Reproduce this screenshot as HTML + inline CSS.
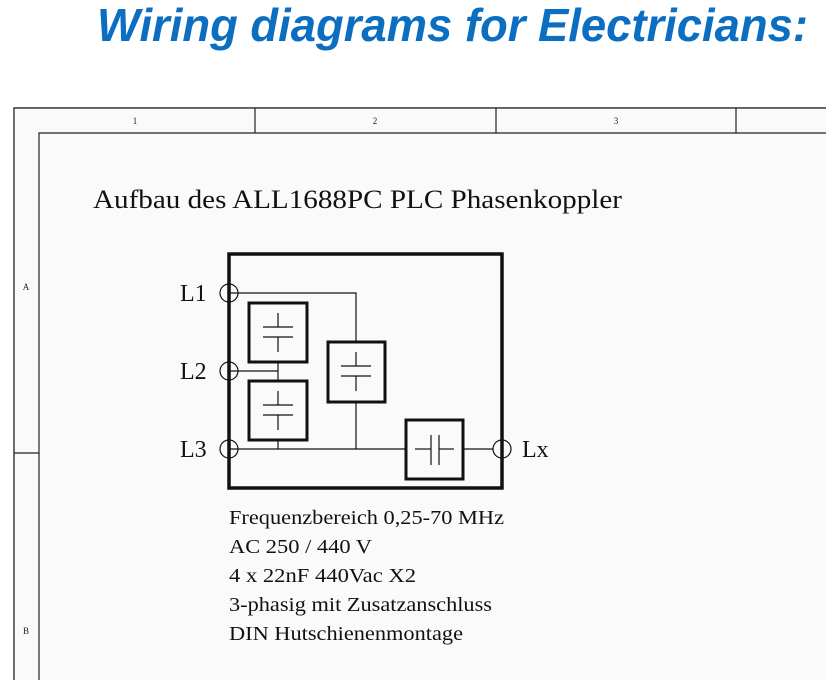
<!DOCTYPE html>
<html><head><meta charset="utf-8"><style>html,body{margin:0;padding:0;background:#fff;overflow:hidden;width:826px;height:680px}svg{display:block}</style></head>
<body>
<svg width="826" height="680" viewBox="0 0 826 680" xmlns="http://www.w3.org/2000/svg">
<text x="97" y="41" font-family="Liberation Sans, sans-serif" font-weight="bold" font-style="italic" font-size="46" fill="#0b6ec1" textLength="711" lengthAdjust="spacingAndGlyphs">Wiring diagrams for Electricians:</text>
<path d="M14 680 V108 H826" fill="#fafafa" stroke="#222" stroke-width="1.2"/>
<rect x="14.6" y="108.6" width="811.4" height="571.4" fill="#fafafa"/>
<path d="M14 680 V108 H826" fill="none" stroke="#222" stroke-width="1.2"/>
<path d="M39 680 V133 H826" fill="none" stroke="#222" stroke-width="1.2"/>
<g stroke="#222" stroke-width="1.2">
<line x1="255" y1="108" x2="255" y2="133"/><line x1="496" y1="108" x2="496" y2="133"/><line x1="736" y1="108" x2="736" y2="133"/>
<line x1="14" y1="453" x2="39" y2="453"/>
</g>
<g font-family="Liberation Serif, serif" font-size="9" fill="#222" text-anchor="middle">
<text x="135" y="124">1</text><text x="375" y="124">2</text><text x="616" y="124">3</text>
<text x="26" y="290">A</text><text x="26" y="634">B</text>
</g>
<text x="93" y="208" font-family="Liberation Serif, serif" font-size="26" fill="#111" textLength="529" lengthAdjust="spacingAndGlyphs">Aufbau des ALL1688PC PLC Phasenkoppler</text>
<g fill="none" stroke="#111">
<rect x="229" y="254" width="273" height="234" stroke-width="3.5"/>
<g stroke-width="3"><rect x="249" y="303" width="58" height="59"/><rect x="249" y="381" width="58" height="59"/><rect x="328" y="342" width="57" height="60"/><rect x="406" y="420" width="57" height="59"/></g>
<g stroke-width="1.2">
<polyline points="229,293 356,293 356,342"/>
<line x1="356" y1="402" x2="356" y2="449"/>
<line x1="229" y1="449" x2="406" y2="449"/>
<line x1="229" y1="371" x2="278" y2="371"/>
<line x1="278" y1="362" x2="278" y2="381"/>
<line x1="278" y1="440" x2="278" y2="449"/>
<line x1="463" y1="449" x2="493" y2="449"/>
<circle cx="229" cy="293" r="9"/><circle cx="229" cy="371" r="9"/><circle cx="229" cy="449" r="9"/><circle cx="502" cy="449" r="9"/>
<g id="c"><line x1="263" y1="327" x2="293" y2="327"/><line x1="263" y1="337" x2="293" y2="337"/><line x1="278" y1="313" x2="278" y2="327"/><line x1="278" y1="337" x2="278" y2="352"/></g>
<use href="#c" transform="translate(0,78)"/>
<use href="#c" transform="translate(78,39)"/>
<line x1="431" y1="435" x2="431" y2="465"/><line x1="439" y1="435" x2="439" y2="465"/><line x1="415" y1="449" x2="431" y2="449"/><line x1="439" y1="449" x2="454" y2="449"/>
</g>
</g>
<g font-family="Liberation Serif, serif" font-size="24" fill="#111">
<text x="180" y="301">L1</text><text x="180" y="379">L2</text><text x="180" y="457">L3</text><text x="522" y="457">Lx</text>
</g>
<g font-family="Liberation Serif, serif" font-size="20" fill="#111" lengthAdjust="spacingAndGlyphs">
<text x="229" y="524" textLength="275" lengthAdjust="spacingAndGlyphs">Frequenzbereich 0,25-70 MHz</text>
<text x="229" y="553" textLength="143" lengthAdjust="spacingAndGlyphs">AC 250 / 440 V</text>
<text x="229" y="582" textLength="187" lengthAdjust="spacingAndGlyphs">4 x 22nF 440Vac X2</text>
<text x="229" y="611" textLength="263" lengthAdjust="spacingAndGlyphs">3-phasig mit Zusatzanschluss</text>
<text x="229" y="640" textLength="234" lengthAdjust="spacingAndGlyphs">DIN Hutschienenmontage</text>
</g>
</svg>
</body></html>
